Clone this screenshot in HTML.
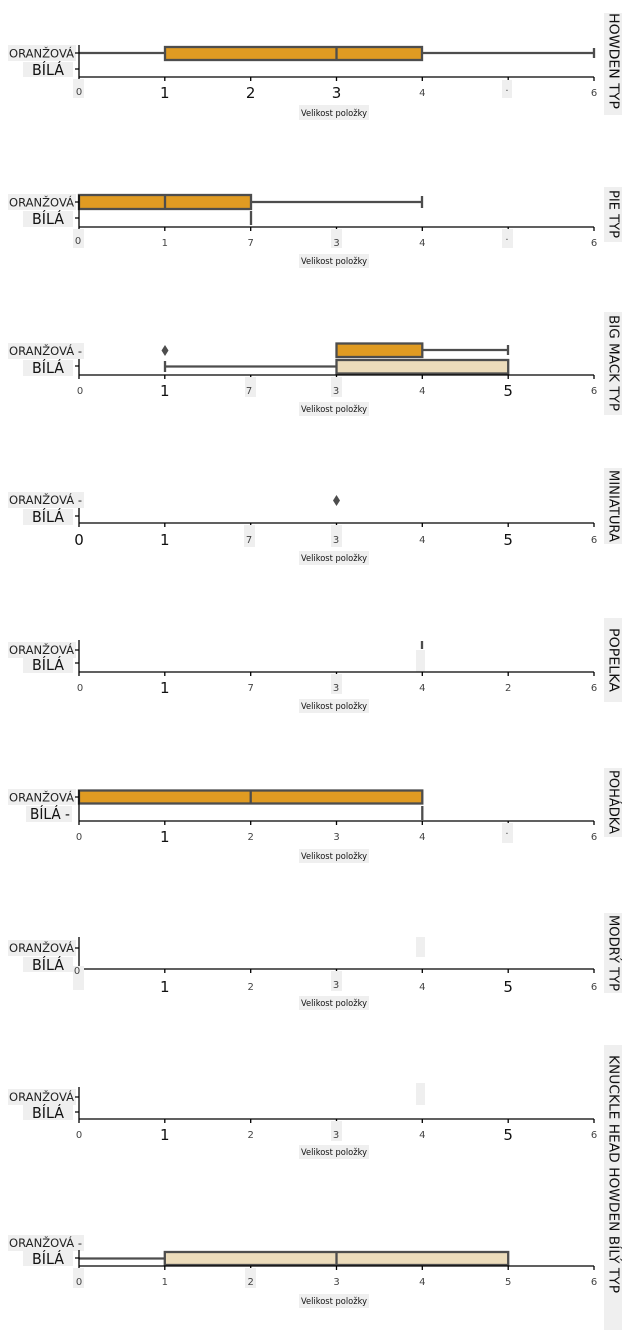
<!DOCTYPE html>
<html><head><meta charset="utf-8"><style>
html,body{margin:0;padding:0;background:#fff;}
svg{display:block;}
.ax{stroke:#000;stroke-width:1.3;fill:none;}
.wh{stroke:#4d4d4d;stroke-width:2.3;fill:none;}
.bx{stroke:#4d4d4d;stroke-width:2.3;}
.bg{fill:#efefef;}
.lo{font-family:"DejaVu Sans","Liberation Sans",sans-serif;font-size:11.5px;fill:#222;}
.lb{font-family:"DejaVu Sans","Liberation Sans",sans-serif;font-size:15px;fill:#111;}
.tl{font-family:"DejaVu Sans","Liberation Sans",sans-serif;font-size:15px;fill:#111;text-anchor:middle;}
.ts{font-family:"DejaVu Sans","Liberation Sans",sans-serif;font-size:10px;fill:#444;text-anchor:middle;}
.xl{font-family:"DejaVu Sans","Liberation Sans",sans-serif;font-size:8.5px;fill:#111;text-anchor:middle;}
.tt{font-family:"DejaVu Sans","Liberation Sans",sans-serif;font-size:13px;fill:#111;text-anchor:middle;}
</style></head><body>
<svg width="628" height="1337" viewBox="0 0 628 1337" xmlns="http://www.w3.org/2000/svg">

<!-- ========== Panel 1: HOWDEN TYP ========== -->
<rect class="bg" x="604" y="13" width="18" height="102"/>
<text class="tt" transform="translate(613,61) rotate(90)" dominant-baseline="central" textLength="96" lengthAdjust="spacingAndGlyphs">HOWDEN TYP</text>
<rect class="bg" x="8" y="45" width="68" height="16"/>
<text class="lo" x="74" y="57.5" text-anchor="end" textLength="65" lengthAdjust="spacingAndGlyphs">ORANŽOVÁ</text>
<rect class="bg" x="23" y="62" width="50" height="15"/>
<text class="lb" x="64" y="75" text-anchor="end" textLength="32" lengthAdjust="spacingAndGlyphs">BÍLÁ</text>
<line class="wh" x1="79" y1="53" x2="594" y2="53"/>
<line class="wh" x1="594" y1="48" x2="594" y2="58"/>
<rect class="bx" x="165" y="47" width="257" height="13" fill="#e09b22"/>
<line class="wh" x1="336.5" y1="47" x2="336.5" y2="60"/>
<path class="ax" d="M79 45V77H594M75 53H79M75 69H79M79 77v4M164.8 77v4M250.7 77v4M336.5 77v4M422.3 77v4M508.2 77v4M594 77v4"/>
<rect class="bg" x="73" y="79" width="11" height="19"/>
<text class="ts" x="79" y="95">0</text>
<text class="tl" x="164.8" y="98">1</text>
<text class="tl" x="250.7" y="98">2</text>
<text class="tl" x="336.5" y="98">3</text>
<text class="ts" x="422.3" y="96">4</text>
<rect class="bg" x="502" y="80" width="10" height="18"/>
<text class="ts" x="507" y="94">·</text>
<text class="ts" x="594" y="96">6</text>
<rect class="bg" x="299" y="105" width="70" height="15"/>
<text class="xl" x="334" y="116" textLength="66" lengthAdjust="spacingAndGlyphs">Velikost položky</text>

<!-- ========== Panel 2: PIE TYP ========== -->
<rect class="bg" x="604" y="187" width="18" height="55"/>
<text class="tt" transform="translate(613,214) rotate(90)" dominant-baseline="central" textLength="48" lengthAdjust="spacingAndGlyphs">PIE TYP</text>
<rect class="bg" x="8" y="194" width="68" height="16"/>
<text class="lo" x="74" y="206.5" text-anchor="end" textLength="65" lengthAdjust="spacingAndGlyphs">ORANŽOVÁ</text>
<rect class="bg" x="23" y="211" width="50" height="16"/>
<text class="lb" x="64" y="224" text-anchor="end" textLength="32" lengthAdjust="spacingAndGlyphs">BÍLÁ</text>
<line class="wh" x1="251" y1="202" x2="422" y2="202"/>
<line class="wh" x1="422" y1="196" x2="422" y2="208"/>
<rect class="bx" x="79" y="195" width="172" height="14" fill="#e09b22"/>
<line class="wh" x1="165" y1="195" x2="165" y2="209"/>
<line class="wh" x1="251" y1="211" x2="251" y2="225"/>
<path class="ax" d="M79 195V227H594M75 202H79M75 218H79M79 227v4M164.8 227v4M250.7 227v4M336.5 227v4M422.3 227v4M508.2 227v4M594 227v4"/>
<rect class="bg" x="73" y="229" width="11" height="19"/>
<text class="ts" x="78" y="244">0</text>
<text class="ts" x="164.8" y="246">1</text>
<text class="ts" x="250.7" y="246">7</text>
<rect class="bg" x="331" y="229" width="11" height="19"/>
<text class="ts" x="336.5" y="246">3</text>
<text class="ts" x="422.3" y="246">4</text>
<rect class="bg" x="502" y="229" width="11" height="19"/>
<text class="ts" x="507" y="243">·</text>
<text class="ts" x="594" y="246">6</text>
<rect class="bg" x="299" y="254" width="70" height="14"/>
<text class="xl" x="334" y="264" textLength="66" lengthAdjust="spacingAndGlyphs">Velikost položky</text>

<!-- ========== Panel 3: BIG MACK TYP ========== -->
<rect class="bg" x="604" y="312" width="18" height="103"/>
<text class="tt" transform="translate(613,363) rotate(90)" dominant-baseline="central" textLength="96" lengthAdjust="spacingAndGlyphs">BIG MACK TYP</text>
<rect class="bg" x="8" y="343" width="76" height="16"/>
<text class="lo" x="82" y="355" text-anchor="end" textLength="73" lengthAdjust="spacingAndGlyphs">ORANŽOVÁ -</text>
<rect class="bg" x="23" y="360" width="50" height="16"/>
<text class="lb" x="64" y="373" text-anchor="end" textLength="32" lengthAdjust="spacingAndGlyphs">BÍLÁ</text>
<path d="M165 345L168.5 350.5L165 356L161.5 350.5Z" fill="#4d4d4d"/>
<line class="wh" x1="422" y1="350" x2="508" y2="350"/>
<line class="wh" x1="508" y1="345" x2="508" y2="355"/>
<rect class="bx" x="336.5" y="343.5" width="85.8" height="13.5" fill="#e09b22"/>
<line class="wh" x1="165" y1="366.5" x2="336.5" y2="366.5"/>
<line class="wh" x1="165" y1="361" x2="165" y2="372"/>
<rect class="bx" x="336.5" y="360" width="171.7" height="13.5" fill="#ecdcbb"/>
<path class="ax" d="M79 359V375H594M75 366H79M79 375v4M164.8 375v4M250.7 375v4M336.5 375v4M422.3 375v4M508.2 375v4M594 375v4"/>
<text class="ts" x="80" y="394">0</text>
<text class="tl" x="164.8" y="396">1</text>
<rect class="bg" x="245" y="377" width="11" height="20"/>
<text class="ts" x="249" y="394">7</text>
<rect class="bg" x="331" y="377" width="11" height="20"/>
<text class="ts" x="336" y="394">3</text>
<text class="ts" x="422.3" y="394">4</text>
<text class="tl" x="508.2" y="396">5</text>
<text class="ts" x="594" y="394">6</text>
<rect class="bg" x="299" y="402" width="70" height="14"/>
<text class="xl" x="334" y="412" textLength="66" lengthAdjust="spacingAndGlyphs">Velikost položky</text>

<!-- ========== Panel 4: MINIATURA ========== -->
<rect class="bg" x="604" y="468" width="18" height="76"/>
<text class="tt" transform="translate(613,506) rotate(90)" dominant-baseline="central" textLength="72" lengthAdjust="spacingAndGlyphs">MINIATURA</text>
<rect class="bg" x="8" y="492" width="76" height="16"/>
<text class="lo" x="82" y="504" text-anchor="end" textLength="73" lengthAdjust="spacingAndGlyphs">ORANŽOVÁ -</text>
<rect class="bg" x="23" y="509" width="50" height="16"/>
<text class="lb" x="64" y="522" text-anchor="end" textLength="32" lengthAdjust="spacingAndGlyphs">BÍLÁ</text>
<path d="M336.5 495L340 500.5L336.5 506L333 500.5Z" fill="#4d4d4d"/>
<path class="ax" d="M79 508V523H594M75 516H79M79 523v4M164.8 523v4M250.7 523v4M336.5 523v4M422.3 523v4M508.2 523v4M594 523v4"/>
<text class="tl" x="79" y="545">0</text>
<text class="tl" x="164.8" y="545">1</text>
<rect class="bg" x="244" y="525" width="11" height="22"/>
<text class="ts" x="249" y="543">7</text>
<rect class="bg" x="331" y="525" width="11" height="22"/>
<text class="ts" x="336" y="543">3</text>
<text class="ts" x="422.3" y="543">4</text>
<text class="tl" x="508.2" y="545">5</text>
<text class="ts" x="594" y="543">6</text>
<rect class="bg" x="299" y="551" width="70" height="14"/>
<text class="xl" x="334" y="561" textLength="66" lengthAdjust="spacingAndGlyphs">Velikost položky</text>

<!-- ========== Panel 5: POPELKA ========== -->
<rect class="bg" x="604" y="618" width="18" height="84"/>
<text class="tt" transform="translate(613,660) rotate(90)" dominant-baseline="central" textLength="64" lengthAdjust="spacingAndGlyphs">POPELKA</text>
<rect class="bg" x="8" y="642" width="68" height="16"/>
<text class="lo" x="74" y="654" text-anchor="end" textLength="65" lengthAdjust="spacingAndGlyphs">ORANŽOVÁ</text>
<rect class="bg" x="23" y="657" width="50" height="16"/>
<text class="lb" x="64" y="670" text-anchor="end" textLength="32" lengthAdjust="spacingAndGlyphs">BÍLÁ</text>
<line class="wh" x1="422" y1="641" x2="422" y2="649"/>
<rect class="bg" x="416" y="650" width="9" height="22"/>
<path class="ax" d="M79 640V672H594M75 650H79M75 663H79M79 672v4M164.8 672v4M250.7 672v4M336.5 672v4M422.3 672v4M508.2 672v4M594 672v4"/>
<text class="ts" x="80" y="691">0</text>
<text class="tl" x="164.8" y="693">1</text>
<text class="ts" x="250.7" y="691">7</text>
<rect class="bg" x="331" y="674" width="11" height="20"/>
<text class="ts" x="336" y="691">3</text>
<text class="ts" x="422.3" y="691">4</text>
<text class="ts" x="508.2" y="691">2</text>
<text class="ts" x="594" y="691">6</text>
<rect class="bg" x="299" y="699" width="70" height="14"/>
<text class="xl" x="334" y="709" textLength="66" lengthAdjust="spacingAndGlyphs">Velikost položky</text>

<!-- ========== Panel 6: POHÁDKA ========== -->
<rect class="bg" x="604" y="768" width="18" height="69"/>
<text class="tt" transform="translate(613,802) rotate(90)" dominant-baseline="central" textLength="64" lengthAdjust="spacingAndGlyphs">POHÁDKA</text>
<rect class="bg" x="8" y="789" width="68" height="16"/>
<text class="lo" x="74" y="801.5" text-anchor="end" textLength="65" lengthAdjust="spacingAndGlyphs">ORANŽOVÁ</text>
<rect class="bg" x="26" y="806" width="46" height="16"/>
<text class="lb" x="70" y="819" text-anchor="end" textLength="40" lengthAdjust="spacingAndGlyphs">BÍLÁ -</text>
<rect class="bx" x="79" y="790.5" width="343.3" height="13" fill="#e09b22"/>
<line class="wh" x1="250.7" y1="790.5" x2="250.7" y2="803.5"/>
<line class="wh" x1="422.3" y1="806" x2="422.3" y2="820"/>
<path class="ax" d="M79 790V821H594M75 797H79M79 821v4M164.8 821v4M250.7 821v4M336.5 821v4M422.3 821v4M508.2 821v4M594 821v4"/>
<text class="ts" x="79" y="840">0</text>
<text class="tl" x="164.8" y="842">1</text>
<text class="ts" x="250.7" y="840">2</text>
<text class="ts" x="336.5" y="840">3</text>
<text class="ts" x="422.3" y="840">4</text>
<rect class="bg" x="502" y="823" width="11" height="20"/>
<text class="ts" x="507" y="837">·</text>
<text class="ts" x="594" y="840">6</text>
<rect class="bg" x="299" y="849" width="70" height="14"/>
<text class="xl" x="334" y="859" textLength="66" lengthAdjust="spacingAndGlyphs">Velikost položky</text>

<!-- ========== Panel 7: MODRÝ TYP ========== -->
<rect class="bg" x="604" y="913" width="18" height="80"/>
<text class="tt" transform="translate(613,953) rotate(90)" dominant-baseline="central" textLength="76" lengthAdjust="spacingAndGlyphs">MODRÝ TYP</text>
<rect class="bg" x="8" y="940" width="68" height="16"/>
<text class="lo" x="74" y="952" text-anchor="end" textLength="65" lengthAdjust="spacingAndGlyphs">ORANŽOVÁ</text>
<rect class="bg" x="23" y="957" width="50" height="15"/>
<text class="lb" x="64" y="970" text-anchor="end" textLength="32" lengthAdjust="spacingAndGlyphs">BÍLÁ</text>
<rect class="bg" x="416" y="937" width="9" height="20"/>
<path class="ax" d="M79 937V969H594M75 948H79M79 969v4M164.8 969v4M250.7 969v4M336.5 969v4M422.3 969v4M508.2 969v4M594 969v4"/>
<rect class="bg" x="73" y="966" width="11" height="24"/>
<text class="ts" x="77" y="974">0</text>
<text class="tl" x="164.8" y="992">1</text>
<text class="ts" x="250.7" y="990">2</text>
<rect class="bg" x="331" y="971" width="11" height="20"/>
<text class="ts" x="336" y="988">3</text>
<text class="ts" x="422.3" y="990">4</text>
<text class="tl" x="508.2" y="992">5</text>
<text class="ts" x="594" y="990">6</text>
<rect class="bg" x="299" y="996" width="70" height="14"/>
<text class="xl" x="334" y="1006" textLength="66" lengthAdjust="spacingAndGlyphs">Velikost položky</text>

<!-- ========== Panel 8 ========== -->
<rect class="bg" x="8" y="1089" width="68" height="16"/>
<text class="lo" x="74" y="1101" text-anchor="end" textLength="65" lengthAdjust="spacingAndGlyphs">ORANŽOVÁ</text>
<rect class="bg" x="23" y="1105" width="50" height="15"/>
<text class="lb" x="64" y="1118" text-anchor="end" textLength="32" lengthAdjust="spacingAndGlyphs">BÍLÁ</text>
<rect class="bg" x="416" y="1083" width="9" height="22"/>
<path class="ax" d="M79 1087V1119H594M75 1097H79M75 1112H79M79 1119v4M164.8 1119v4M250.7 1119v4M336.5 1119v4M422.3 1119v4M508.2 1119v4M594 1119v4"/>
<text class="ts" x="79" y="1138">0</text>
<text class="tl" x="164.8" y="1140">1</text>
<text class="ts" x="250.7" y="1138">2</text>
<rect class="bg" x="331" y="1121" width="11" height="20"/>
<text class="ts" x="336" y="1138">3</text>
<text class="ts" x="422.3" y="1138">4</text>
<text class="tl" x="508.2" y="1140">5</text>
<text class="ts" x="594" y="1138">6</text>
<rect class="bg" x="299" y="1145" width="70" height="14"/>
<text class="xl" x="334" y="1155" textLength="66" lengthAdjust="spacingAndGlyphs">Velikost položky</text>

<!-- shared title strip: KNUCKLE HEAD HOWDEN BÍLÝ TYP -->
<rect class="bg" x="604" y="1045" width="18" height="285"/>
<text class="tt" transform="translate(613,1174) rotate(90)" dominant-baseline="central" font-size="14" textLength="238" lengthAdjust="spacingAndGlyphs">KNUCKLE HEAD HOWDEN BÍLÝ TYP</text>

<!-- ========== Panel 9 ========== -->
<rect class="bg" x="8" y="1235" width="76" height="16"/>
<text class="lo" x="82" y="1247" text-anchor="end" textLength="73" lengthAdjust="spacingAndGlyphs">ORANŽOVÁ -</text>
<rect class="bg" x="23" y="1251" width="50" height="15"/>
<text class="lb" x="64" y="1264" text-anchor="end" textLength="32" lengthAdjust="spacingAndGlyphs">BÍLÁ</text>
<line class="wh" x1="79" y1="1258.5" x2="165" y2="1258.5"/>
<rect class="bx" x="164.8" y="1252" width="343.4" height="13" fill="#ecdcbb"/>
<line class="wh" x1="336.5" y1="1252" x2="336.5" y2="1265"/>
<path class="ax" d="M79 1250V1266H594M75 1258H79M79 1266v4M164.8 1266v4M250.7 1266v4M336.5 1266v4M422.3 1266v4M508.2 1266v4M594 1266v4"/>
<rect class="bg" x="73" y="1268" width="11" height="20"/>
<text class="ts" x="79" y="1285">0</text>
<text class="ts" x="164.8" y="1285">1</text>
<rect class="bg" x="245" y="1268" width="11" height="20"/>
<text class="ts" x="250.7" y="1285">2</text>
<text class="ts" x="336.5" y="1285">3</text>
<text class="ts" x="422.3" y="1285">4</text>
<text class="ts" x="508.2" y="1285">5</text>
<text class="ts" x="594" y="1285">6</text>
<rect class="bg" x="299" y="1294" width="70" height="14"/>
<text class="xl" x="334" y="1304" textLength="66" lengthAdjust="spacingAndGlyphs">Velikost položky</text>

</svg>
</body></html>
